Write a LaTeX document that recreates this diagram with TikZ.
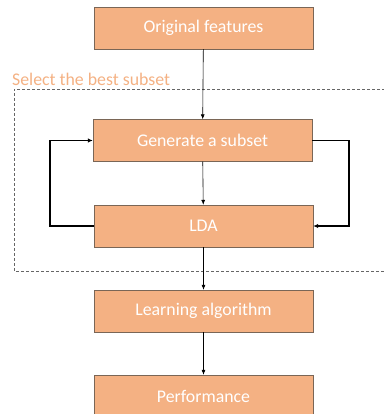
\documentclass[tikz,border=0pt]{standalone}
\usepackage{fontspec}
\setmainfont{Carlito}
\usetikzlibrary{arrows.meta}
\definecolor{boxfill}{HTML}{F4B183}
\definecolor{boxline}{HTML}{7A6656}
\tikzset{
  stepbox/.style={draw=boxline, fill=boxfill, text=white, minimum width=219pt, minimum height=42pt, font=\fontsize{17.8}{20}\selectfont},
  thinarrow/.style={-{Latex[length=5pt,width=4pt]}, line width=0.6pt},
  looparrow/.style={-{Latex[length=5pt,width=4.5pt]}, line width=1.6pt}
}
\begin{document}
\begin{tikzpicture}[x=1pt,y=-1pt]
      \useasboundingbox (0,0) rectangle (383,414);
      \node[stepbox] (orig) at (203.5,28) {Original features};
      \node[stepbox] (gen) at (202.5,140.5) {Generate a subset};
      \node[stepbox] (lda) at (203.5,226) {LDA};
      \node[stepbox] (learn) at (203.5,311) {Learning algorithm};
      \node[stepbox] (perf) at (203.5,396) {Performance};
      % selection box
      \draw[gray!80!black, dash pattern=on 3pt off 2pt, line width=0.7pt] (390,89) -- (14,89) -- (14,271) -- (390,271);
      \node[anchor=south west, inner sep=0pt, text=boxfill, font=\fontsize{17.8}{20}\selectfont] (sel) at (12,86) {Select the best subset};
      \draw[thinarrow] (orig) -- (gen);
      \draw[thinarrow] (gen) -- (lda);
      \draw[thinarrow] (lda) -- (learn);
      \draw[thinarrow] (learn) -- (perf);
      % feedback loops
      \draw[looparrow] (lda.west) -- (50,226) -- (50,140.5) -- (gen.west);
      \draw[looparrow] (gen.east) -- (349,140.5) -- (349,226) -- (lda.east);
\end{tikzpicture}
\end{document}
